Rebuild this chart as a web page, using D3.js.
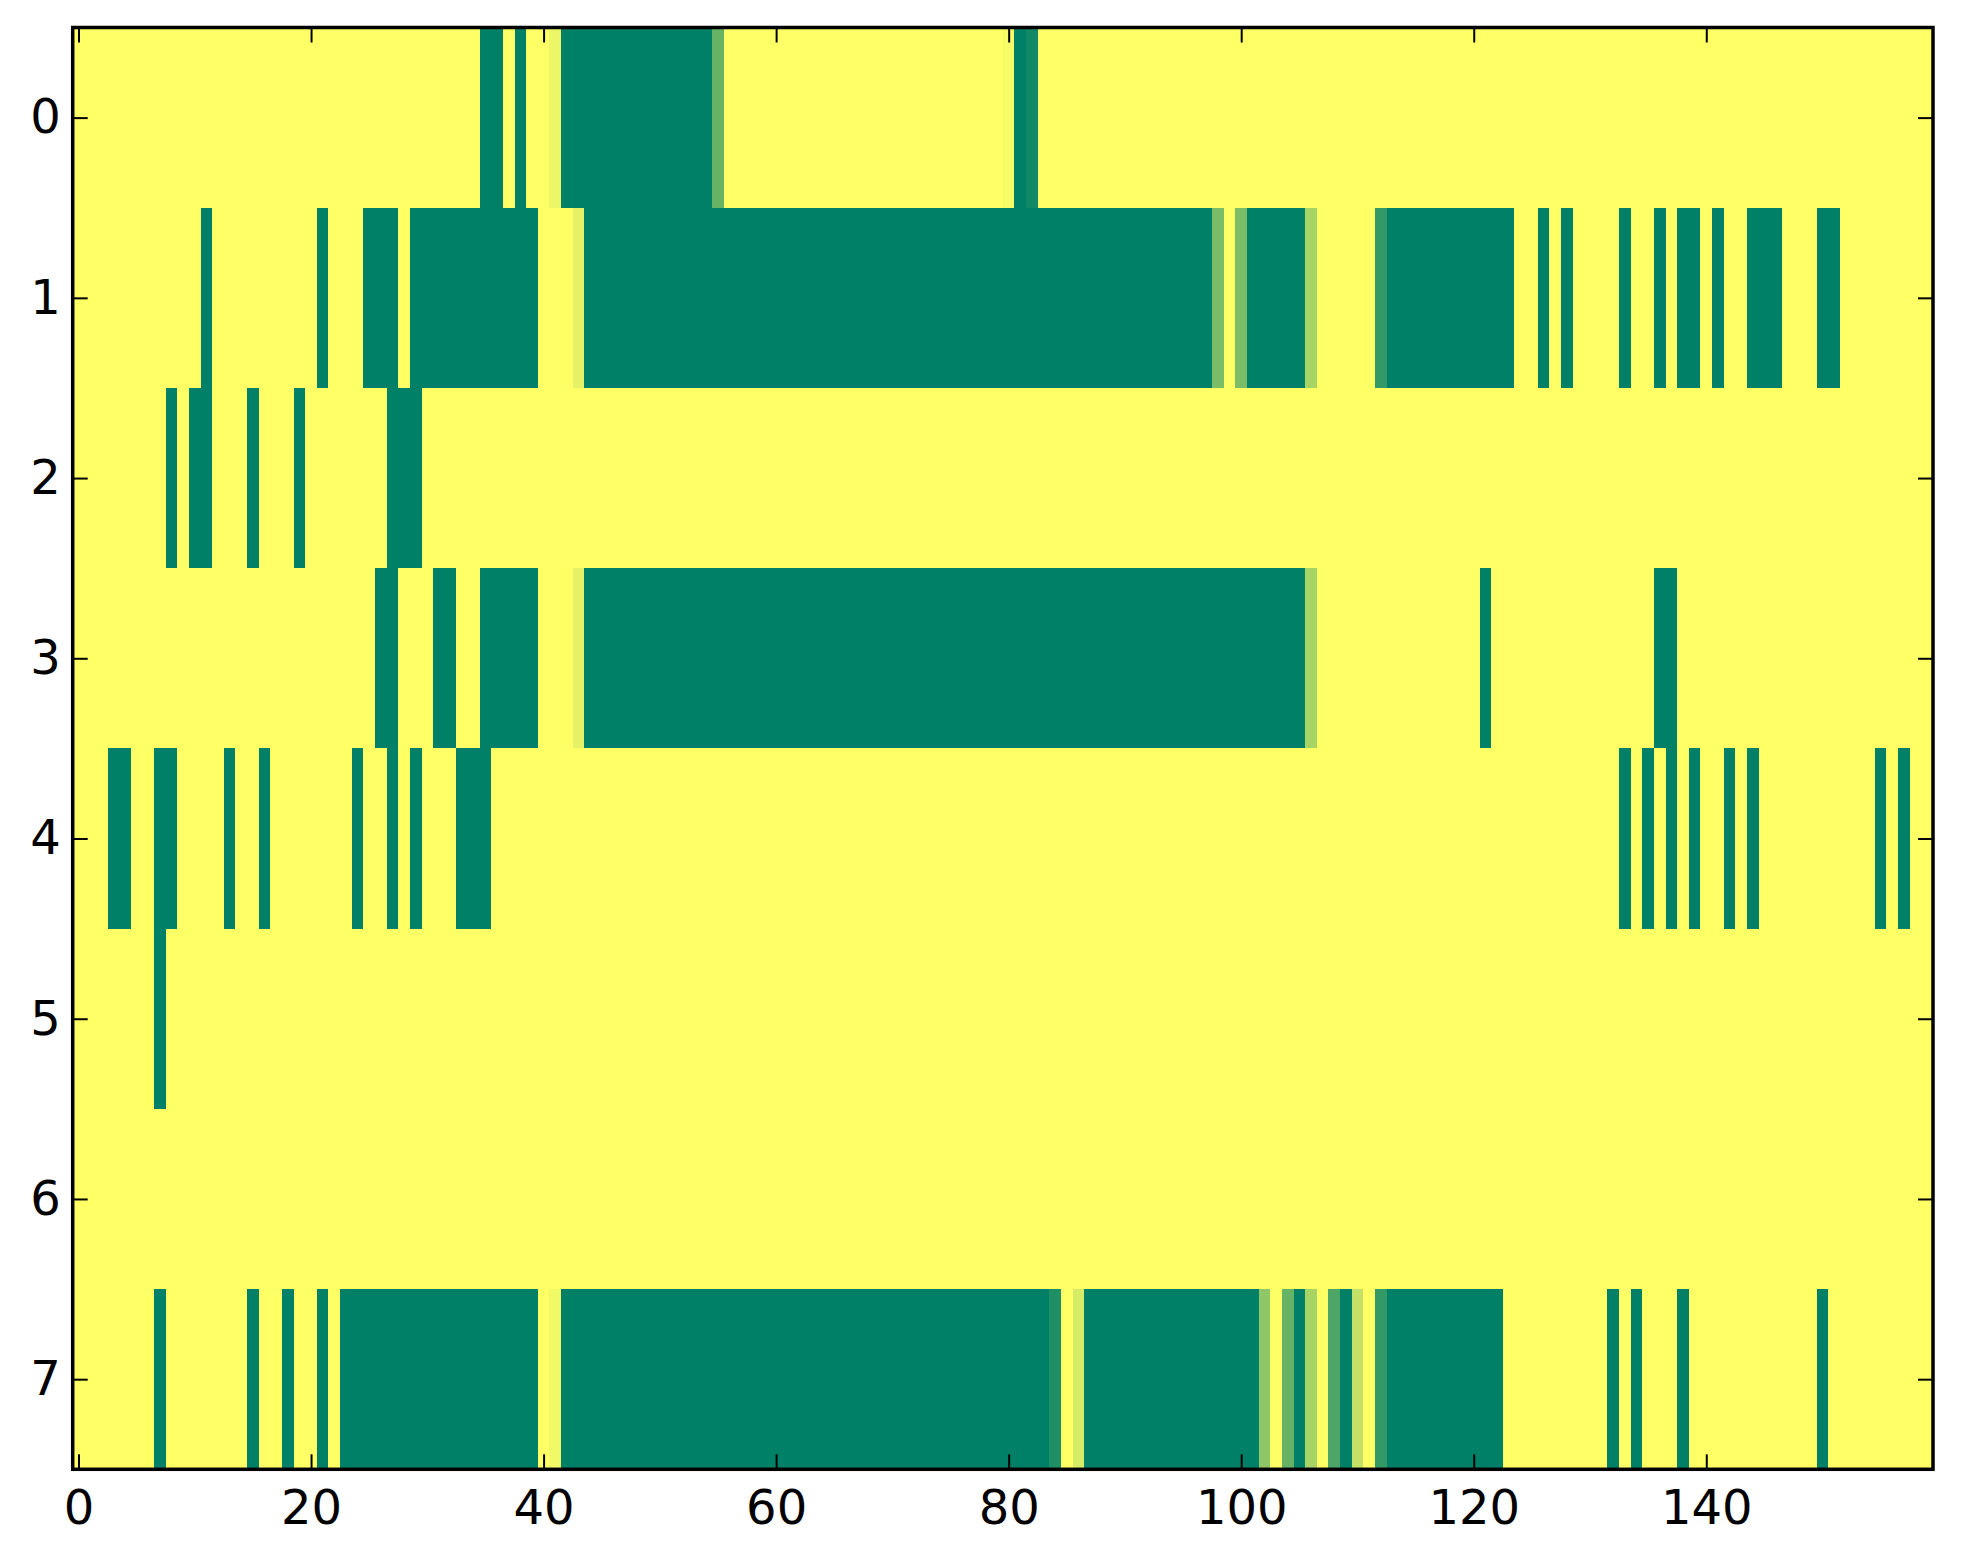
<!DOCTYPE html>
<html>
<head>
<meta charset="utf-8">
<script src="https://cdn.jsdelivr.net/npm/d3@7"></script>
<style>
  html, body { margin: 0; padding: 0; background: #ffffff; }
  svg { display: block; }
</style>
</head>
<body>
<svg id="chart" width="1963" height="1564"></svg>
<script>
// ---- data: 8 rows x 160 columns (0 = green, 1 = yellow, summer colormap)
const row0 = [
  1,1,1,1,1,1,1,1,1,1,1,1,1,1,1,1,1,1,1,1,
  1,1,1,1,1,1,1,1,1,1,1,1,1,1,1,0,0,1,0,1,
  1,0.93,0,0,0,0,0,0,0,0,0,0,0,0,0,0.4,1,1,1,1,
  1,1,1,1,1,1,1,1,1,1,1,1,1,1,1,1,1,1,1,1,
  0.97,0,0.07,1,1,1,1,1,1,1,1,1,1,1,1,1,1,1,1,1,
  1,1,1,1,1,1,1,1,1,1,1,1,1,1,1,1,1,1,1,1,
  1,1,1,1,1,1,1,1,1,1,1,1,1,1,1,1,1,1,1,1,
  1,1,1,1,1,1,1,1,1,1,1,1,1,1,1,1,1,1,1,1
];
const row1 = [
  1,1,1,1,1,1,1,1,1,1,1,0,1,1,1,1,1,1,1,1,
  1,0,1,1,1,0,0,0,1,0,0,0,0,0,0,0,0,0,0,0,
  1,1,1,0.9,0,0,0,0,0,0,0,0,0,0,0,0,0,0,0,0,
  0,0,0,0,0,0,0,0,0,0,0,0,0,0,0,0,0,0,0,0,
  0,0,0,0,0,0,0,0,0,0,0,0,0,0,0,0,0,0,0.48,1,
  0.48,0,0,0,0,0,0.66,1,1,1,1,1,0.2,0,0,0,0,0,0,0,
  0,0,0,0,1,1,0,1,0,1,1,1,1,0,1,1,0,1,0,0,
  1,0,1,1,0,0,0,1,1,1,0,0,1,1,1,1,1,1,1,1
];
const row2 = [
  1,1,1,1,1,1,1,1,0,1,0,0,1,1,1,0,1,1,1,0,
  1,1,1,1,1,1,1,0,0,0,1,1,1,1,1,1,1,1,1,1,
  1,1,1,1,1,1,1,1,1,1,1,1,1,1,1,1,1,1,1,1,
  1,1,1,1,1,1,1,1,1,1,1,1,1,1,1,1,1,1,1,1,
  1,1,1,1,1,1,1,1,1,1,1,1,1,1,1,1,1,1,1,1,
  1,1,1,1,1,1,1,1,1,1,1,1,1,1,1,1,1,1,1,1,
  1,1,1,1,1,1,1,1,1,1,1,1,1,1,1,1,1,1,1,1,
  1,1,1,1,1,1,1,1,1,1,1,1,1,1,1,1,1,1,1,1
];
const row3 = [
  1,1,1,1,1,1,1,1,1,1,1,1,1,1,1,1,1,1,1,1,
  1,1,1,1,1,1,0,0,1,1,1,0,0,1,1,0,0,0,0,0,
  1,1,1,0.9,0,0,0,0,0,0,0,0,0,0,0,0,0,0,0,0,
  0,0,0,0,0,0,0,0,0,0,0,0,0,0,0,0,0,0,0,0,
  0,0,0,0,0,0,0,0,0,0,0,0,0,0,0,0,0,0,0,0,
  0,0,0,0,0,0,0.66,1,1,1,1,1,1,1,1,1,1,1,1,1,
  1,0,1,1,1,1,1,1,1,1,1,1,1,1,1,1,0,0,1,1,
  1,1,1,1,1,1,1,1,1,1,1,1,1,1,1,1,1,1,1,1
];
const row4 = [
  1,1,1,0,0,1,1,0,0,1,1,1,1,0,1,1,0,1,1,1,
  1,1,1,1,0,1,1,0,1,0,1,1,1,0,0,0,1,1,1,1,
  1,1,1,1,1,1,1,1,1,1,1,1,1,1,1,1,1,1,1,1,
  1,1,1,1,1,1,1,1,1,1,1,1,1,1,1,1,1,1,1,1,
  1,1,1,1,1,1,1,1,1,1,1,1,1,1,1,1,1,1,1,1,
  1,1,1,1,1,1,1,1,1,1,1,1,1,1,1,1,1,1,1,1,
  1,1,1,1,1,1,1,1,1,1,1,1,1,0,1,0,1,0,1,0,
  1,1,0,1,0,1,1,1,1,1,1,1,1,1,1,0,1,0,1,1
];
const row5 = [
  1,1,1,1,1,1,1,0,1,1,1,1,1,1,1,1,1,1,1,1,
  1,1,1,1,1,1,1,1,1,1,1,1,1,1,1,1,1,1,1,1,
  1,1,1,1,1,1,1,1,1,1,1,1,1,1,1,1,1,1,1,1,
  1,1,1,1,1,1,1,1,1,1,1,1,1,1,1,1,1,1,1,1,
  1,1,1,1,1,1,1,1,1,1,1,1,1,1,1,1,1,1,1,1,
  1,1,1,1,1,1,1,1,1,1,1,1,1,1,1,1,1,1,1,1,
  1,1,1,1,1,1,1,1,1,1,1,1,1,1,1,1,1,1,1,1,
  1,1,1,1,1,1,1,1,1,1,1,1,1,1,1,1,1,1,1,1
];
const row6 = [
  1,1,1,1,1,1,1,1,1,1,1,1,1,1,1,1,1,1,1,1,
  1,1,1,1,1,1,1,1,1,1,1,1,1,1,1,1,1,1,1,1,
  1,1,1,1,1,1,1,1,1,1,1,1,1,1,1,1,1,1,1,1,
  1,1,1,1,1,1,1,1,1,1,1,1,1,1,1,1,1,1,1,1,
  1,1,1,1,1,1,1,1,1,1,1,1,1,1,1,1,1,1,1,1,
  1,1,1,1,1,1,1,1,1,1,1,1,1,1,1,1,1,1,1,1,
  1,1,1,1,1,1,1,1,1,1,1,1,1,1,1,1,1,1,1,1,
  1,1,1,1,1,1,1,1,1,1,1,1,1,1,1,1,1,1,1,1
];
const row7 = [
  1,1,1,1,1,1,1,0,1,1,1,1,1,1,1,0,1,1,0,1,
  1,0,1,0,0,0,0,0,0,0,0,0,0,0,0,0,0,0,0,0,
  1,0.95,0,0,0,0,0,0,0,0,0,0,0,0,0,0,0,0,0,0,
  0,0,0,0,0,0,0,0,0,0,0,0,0,0,0,0,0,0,0,0,
  0,0,0,0,0.12,1,0.84,0,0,0,0,0,0,0,0,0,0,0,0,0,
  0,0,0.56,1,0.4,0,0.66,1,0.3,0,0.76,1,0.2,0,0,0,0,0,0,0,
  0,0,0,1,1,1,1,1,1,1,1,1,0,1,0,1,1,1,0,1,
  1,1,1,1,1,1,1,1,1,1,0,1,1,1,1,1,1,1,1,1
];
const rows = [row0, row1, row2, row3, row4, row5, row6, row7];
const xTickValues = [0, 20, 40, 60, 80, 100, 120, 140];
const yTickValues = [0, 1, 2, 3, 4, 5, 6, 7];

// ---- layout
const W = 1963, H = 1564;
const plotLeft = 72.7, plotRight = 1933, plotTop = 27.5, plotBottom = 1469.3;
const nCols = row0.length;

const svg = d3.select("#chart");
svg.append("rect").attr("width", W).attr("height", H).attr("fill", "#ffffff");

const x = d3.scaleLinear().domain([-0.5, nCols - 0.5]).range([plotLeft, plotRight]);
const y = d3.scaleLinear().domain([-0.5, rows.length - 0.5]).range([plotTop, plotBottom]);
// matplotlib "summer": (v, 0.5+0.5v, 0.4)
const color = d3.scaleLinear().domain([0, 1]).range(["#008066", "#ffff66"]).interpolate(d3.interpolateRgb);

const cells = [];
rows.forEach((r, ri) => r.forEach((v, ci) => cells.push({ r: ri, c: ci, v: v })));

svg.append("g").selectAll("rect").data(cells).join("rect")
  .attr("x", d => x(d.c - 0.5))
  .attr("y", d => y(d.r - 0.5))
  .attr("width", d => x(d.c + 0.5) - x(d.c - 0.5) + 0.4)
  .attr("height", d => y(d.r + 0.5) - y(d.r - 0.5) + 0.4)
  .attr("fill", d => color(d.v))
  .attr("shape-rendering", "crispEdges");

const font = "DejaVu Sans, Liberation Sans, sans-serif";

function styleAxis(g) {
  g.select(".domain").remove();
  g.selectAll(".tick line").attr("stroke", "#000").attr("stroke-width", 2);
  g.selectAll(".tick text").attr("fill", "#000").attr("font-size", 48).attr("font-family", font);
}

svg.append("g").attr("transform", `translate(0,${plotBottom})`)
  .call(d3.axisBottom(x).tickValues(xTickValues).tickSizeInner(-15).tickSizeOuter(0).tickPadding(21))
  .call(styleAxis);
svg.append("g").attr("transform", `translate(0,${plotTop})`)
  .call(d3.axisTop(x).tickValues(xTickValues).tickSizeInner(-15).tickSizeOuter(0).tickFormat(""))
  .call(styleAxis);
svg.append("g").attr("transform", `translate(${plotLeft},0)`)
  .call(d3.axisLeft(y).tickValues(yTickValues).tickSizeInner(-15).tickSizeOuter(0).tickPadding(12))
  .call(styleAxis);
svg.append("g").attr("transform", `translate(${plotRight},0)`)
  .call(d3.axisRight(y).tickValues(yTickValues).tickSizeInner(-15).tickSizeOuter(0).tickFormat(""))
  .call(styleAxis);

svg.append("rect")
  .attr("x", plotLeft).attr("y", plotTop)
  .attr("width", plotRight - plotLeft).attr("height", plotBottom - plotTop)
  .attr("fill", "none").attr("stroke", "#000").attr("stroke-width", 3.5);
</script>
</body>
</html>
